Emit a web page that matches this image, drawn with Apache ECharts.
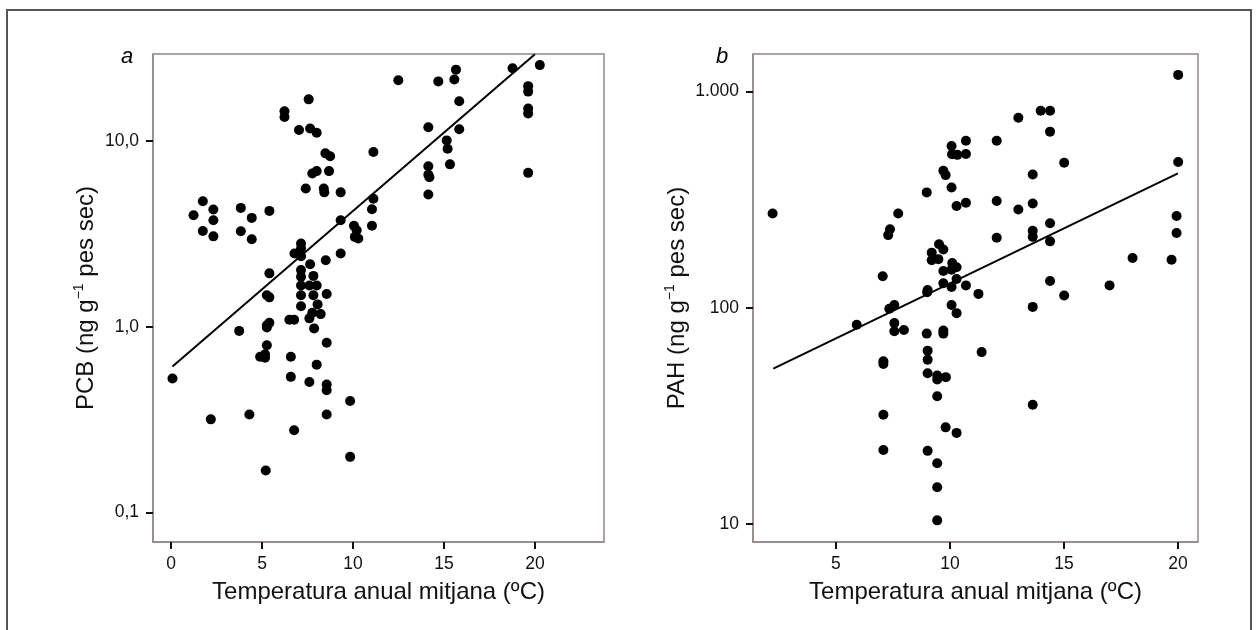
<!DOCTYPE html>
<html><head><meta charset="utf-8">
<script src="https://cdn.jsdelivr.net/npm/echarts@6/dist/echarts.min.js"></script>
<style>html,body{margin:0;padding:0;background:#fff}#c{width:1259px;height:630px}</style>
</head><body><div id="c"></div>
<script>
// Panel a: PCB vs mean annual temperature  [temperature ºC, PCB ng/g]
const pcbPoints = [
  [0.07,0.526],[1.23,3.99],[1.74,4.75],[1.74,3.28],[2.32,4.28],[2.32,3.75],[2.32,3.07],[2.18,0.317],
  [3.83,4.37],[3.83,3.27],[4.43,3.86],[4.43,2.96],[3.74,0.95],[4.3,0.337],[5.4,4.21],[5.4,1.94],
  [5.26,1.48],[5.4,1.44],[5.4,1.05],[5.26,1.02],[5.26,0.99],[5.26,0.795],[4.89,0.69],[5.16,0.71],
  [5.16,0.68],[5.2,0.168],[6.23,14.5],[6.23,13.5],[6.5,1.09],[6.76,1.09],[6.58,0.69],[6.58,0.537],
  [6.76,0.277],[7.03,11.5],[7.56,16.8],[7.64,11.7],[8.0,11.1],[7.4,5.56],[7.76,6.7],[8.0,6.9],
  [8.68,6.9],[8.48,8.6],[8.74,8.3],[8.39,5.56],[8.42,5.3],[9.32,5.3],[9.32,3.75],[9.32,2.48],
  [8.5,2.28],[7.14,2.81],[7.14,2.64],[6.78,2.48],[7.14,2.4],[7.64,2.17],[7.14,2.02],[7.82,1.88],
  [7.14,1.86],[7.14,1.67],[7.6,1.67],[8.0,1.67],[7.14,1.48],[7.82,1.48],[8.55,1.5],[7.14,1.29],
  [8.05,1.32],[7.76,1.19],[8.22,1.17],[7.6,1.11],[7.86,0.98],[8.55,0.82],[8.0,0.625],[7.6,0.504],
  [8.55,0.488],[8.55,0.455],[8.55,0.337],[9.84,0.398],[9.84,0.199],[10.05,3.5],[10.2,3.31],[10.29,2.99],
  [10.1,3.05],[11.04,4.3],[11.04,3.5],[11.12,4.9],[11.12,8.75],[12.49,21.3],[14.14,11.9],[14.14,7.33],
  [14.14,6.6],[14.2,6.4],[14.14,5.16],[14.69,21.0],[15.15,10.1],[15.2,9.1],[15.33,7.5],[15.57,21.5],
  [15.66,24.3],[15.84,16.4],[15.84,11.6],[18.77,24.7],[20.27,25.7],[19.63,19.8],[19.63,18.5],[19.63,15.0],
  [19.63,14.1],[19.63,6.75]
];
// Panel b: PAH vs mean annual temperature  [temperature ºC, PAH ng/g]
const pahPoints = [
  [2.22,273],[5.91,83.5],[7.05,140],[7.08,56.6],[7.08,55],[7.08,32],[7.08,22],[7.29,217],
  [7.37,231],[7.34,99],[7.56,103],[7.56,85],[7.56,78],[7.73,273],[7.98,79],[8.98,342],
  [8.98,76],[9.02,121],[9.0,118],[9.02,63.4],[9.02,57.6],[9.02,49.8],[9.02,21.8],[9.2,180],
  [9.2,166],[9.49,168],[9.52,197],[9.44,48.6],[9.44,46.6],[9.44,39],[9.44,19.1],[9.44,14.8],
  [9.44,10.4],[9.71,431],[9.81,411],[9.71,186],[9.71,148],[9.71,130],[9.71,78.6],[9.71,76],
  [9.82,47.8],[9.81,28],[10.07,560],[10.09,513],[10.07,360],[10.1,161],[10.07,150],[10.07,125],
  [10.07,103],[10.29,296],[10.29,154],[10.29,136],[10.29,94.5],[10.29,26.4],[10.32,510],[10.7,593],
  [10.7,515],[10.7,306],[10.7,127],[11.25,116],[11.39,62.4],[12.05,593],[12.05,312],[12.05,211],
  [13.0,757],[13.0,285],[13.63,414],[13.63,304],[13.63,227],[13.63,213],[13.63,101],[13.63,35.6],
  [13.98,816],[14.39,816],[14.39,653],[14.39,246],[14.39,203],[14.39,133],[15.01,469],[15.01,114],
  [17.0,127],[18.01,170],[19.72,167],[19.94,266],[19.94,222],[20.01,473],[20.01,1195]
];
// Fitted regression lines (end points)
const pcbFit = [[0.07,0.61],[20.0,29.4]];
const pahFit = [[2.25,52.3],[20.0,419]];
// Tick labels
const pcbTickValues = [0.1, 1, 10];
const pcbTickLabels = ['0,1', '1,0', '10,0'];
const pahTickValues = [10, 100, 1000];
const pahTickLabels = ['10', '100', '1.000'];
const xTitle = 'Temperatura anual mitjana (ºC)';

const FONT = '"Liberation Sans", Arial, Helvetica, sans-serif';
const boxColor = '#938888';
function lookup(vals, labels) {
  return v => { for (let i = 0; i < vals.length; i++) { if (Math.abs(v - vals[i]) < vals[i] * 1e-6) return labels[i]; } return ''; };
}
const chart = echarts.init(document.getElementById('c'), null, {renderer: 'canvas'});
const lineCommon = {show: true, onZero: false, lineStyle: {color: boxColor, width: 1.5}};
const tickCommon = {show: true, inside: false, length: 7, lineStyle: {color: '#111', width: 2}};
const axisCommonX = {
  type: 'value', splitNumber: 4,
  axisLine: lineCommon,
  axisTick: tickCommon,
  axisLabel: {show: true, margin: 13, color: '#111', fontSize: 17.5, fontFamily: FONT, showMinLabel: false, showMaxLabel: false},
  splitLine: {show: false},
  name: xTitle, nameLocation: 'middle', nameGap: 38,
  nameTextStyle: {fontSize: 24, color: '#111', fontFamily: FONT}
};
const supRich = {sup: {fontSize: 14, fontFamily: FONT, color: '#111', verticalAlign: 'top', lineHeight: 28}};
chart.setOption({
  animation: false,
  backgroundColor: '#fff',
  grid: [
    {left: 153, top: 54, width: 451, height: 488, show: true, borderColor: boxColor, borderWidth: 1.5, backgroundColor: 'transparent'},
    {left: 753, top: 54, width: 445, height: 488, show: true, borderColor: boxColor, borderWidth: 1.5, backgroundColor: 'transparent'}
  ],
  xAxis: [
    Object.assign({}, axisCommonX, {gridIndex: 0, min: -1, max: 23.8}),
    Object.assign({}, axisCommonX, {gridIndex: 1, min: 1.36, max: 20.88})
  ],
  yAxis: [
    {
      type: 'log', logBase: 10, gridIndex: 0, min: 0.0692, max: 29.5,
      axisLine: lineCommon,
      axisTick: tickCommon,
      axisLabel: {margin: 14, color: '#111', fontSize: 17.5, fontFamily: FONT, showMinLabel: false, showMaxLabel: false,
        formatter: lookup(pcbTickValues, pcbTickLabels)},
      splitLine: {show: false}, minorTick: {show: false},
      name: 'PCB (ng g{sup|−1} pes sec)', nameLocation: 'middle', nameGap: 53, nameRotate: 90,
      nameTextStyle: {fontSize: 24, color: '#111', fontFamily: FONT, lineHeight: 28, rich: supRich}
    },
    {
      type: 'log', logBase: 10, gridIndex: 1, min: 8.26, max: 1493,
      axisLine: lineCommon,
      axisTick: tickCommon,
      axisLabel: {margin: 14, color: '#111', fontSize: 17.5, fontFamily: FONT, showMinLabel: false, showMaxLabel: false,
        formatter: lookup(pahTickValues, pahTickLabels)},
      splitLine: {show: false}, minorTick: {show: false},
      name: 'PAH (ng g{sup|−1} pes sec)', nameLocation: 'middle', nameGap: 48, nameRotate: 90,
      nameTextStyle: {fontSize: 24, color: '#111', fontFamily: FONT, lineHeight: 28, rich: supRich}
    }
  ],
  series: [
    {type: 'scatter', xAxisIndex: 0, yAxisIndex: 0, data: pcbPoints, symbol: 'circle', symbolSize: 10,
      itemStyle: {color: '#000', opacity: 1}, z: 3},
    {type: 'line', xAxisIndex: 0, yAxisIndex: 0, data: pcbFit, showSymbol: false, symbol: 'none', clip: true,
      lineStyle: {color: '#000', width: 2}, z: 4},
    {type: 'scatter', xAxisIndex: 1, yAxisIndex: 1, data: pahPoints, symbol: 'circle', symbolSize: 10,
      itemStyle: {color: '#000', opacity: 1}, z: 3},
    {type: 'line', xAxisIndex: 1, yAxisIndex: 1, data: pahFit, showSymbol: false, symbol: 'none', clip: true,
      lineStyle: {color: '#000', width: 2}, z: 4}
  ],
  graphic: [
    {type: 'rect', silent: true, z: -10, shape: {x: 7, y: 10, width: 1244, height: 700},
      style: {fill: 'none', stroke: '#555', lineWidth: 2}},
    {type: 'text', silent: true, x: 127, y: 57,
      style: {text: 'a', font: 'italic 22px ' + FONT, fill: '#000', align: 'center', verticalAlign: 'middle'}},
    {type: 'text', silent: true, x: 722, y: 57,
      style: {text: 'b', font: 'italic 22px ' + FONT, fill: '#000', align: 'center', verticalAlign: 'middle'}}
  ]
});
</script></body></html>
